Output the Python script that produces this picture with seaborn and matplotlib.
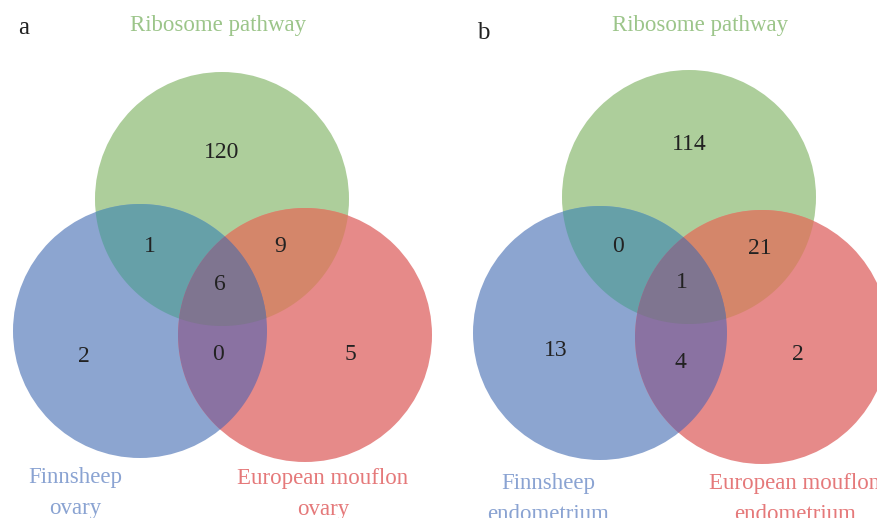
import numpy as np
import matplotlib.pyplot as plt
import seaborn as sns
from matplotlib.patches import Circle, Polygon

# counts per region: green only, green+blue, green+red, all three, blue only, blue+red, red only
panel_names = ['a', 'b']
set_top = ['Ribosome pathway', 'Ribosome pathway']
set_left = ['Finnsheep\novary', 'Finnsheep\nendometrium']
set_right = ['European mouflon\novary', 'European mouflon\nendometrium']
counts_a = [120, 1, 9, 6, 2, 0, 5]
counts_b = [114, 0, 21, 1, 13, 4, 2]

# layout (pixel space)
circles = [
    [(222, 199), (140, 331), (305, 335)],
    [(689, 197), (600, 333), (762, 337)],
]
radius = 127
count_pos = [
    [(222, 153), (150, 246), (280, 246), (220, 285), (84, 356), (218, 355), (350, 354)],
    [(689, 145), (618, 246), (760, 249), (682, 282), (556, 350), (680, 362), (798, 355)],
]
panel_pos = [(18, 28), (477, 33)]
top_pos = [(218, 25), (700, 25)]
left_pos = [(75, 493), (548, 499)]
right_pos = [(323, 494), (795, 499)]

green, blue, red = '#adce9b', '#8ca5d0', '#e68a89'
gb, gr, br, gbr = '#66a0a8', '#d4866a', '#8a72a2', '#7f7590'
label_green, label_blue, label_red = '#9cc58a', '#8aa3d2', '#e5797a'

sns.set_style('white')
plt.rcParams['font.family'] = ['Liberation Serif', 'DejaVu Serif']


def intersection(centers, r, n=1440):
    pts = []
    t = np.linspace(0, 2 * np.pi, n, endpoint=False)
    for cx, cy in centers:
        ring = np.column_stack([cx + r * np.cos(t), cy + r * np.sin(t)])
        keep = np.ones(n, dtype=bool)
        for ox, oy in centers:
            keep &= (ring[:, 0] - ox) ** 2 + (ring[:, 1] - oy) ** 2 <= r * r + 1e-6
        pts.append(ring[keep])
    pts = np.vstack(pts)
    m = pts.mean(axis=0)
    ang = np.arctan2(pts[:, 1] - m[1], pts[:, 0] - m[0])
    return pts[np.argsort(ang)]


fig = plt.figure(figsize=(8.77, 5.18), dpi=100)
ax = fig.add_axes([0, 0, 1, 1])
ax.set_xlim(0, 877)
ax.set_ylim(518, 0)
ax.axis('off')

for i, counts in enumerate([counts_a, counts_b]):
    g, b, r = circles[i]
    for c, col in zip([g, b, r], [green, blue, red]):
        ax.add_patch(Circle(c, radius, facecolor=col, edgecolor='none', antialiased=True))
    for pair, col in [((g, b), gb), ((g, r), gr), ((b, r), br)]:
        ax.add_patch(Polygon(intersection(pair, radius), closed=True, facecolor=col, edgecolor='none'))
    ax.add_patch(Polygon(intersection((g, b, r), radius), closed=True, facecolor=gbr, edgecolor='none'))

    for val, (x, y) in zip(counts, count_pos[i]):
        ax.text(x, y, str(val), ha='center', va='center', fontsize=17, color='#222222')

    ax.text(*panel_pos[i], panel_names[i], ha='left', va='center', fontsize=18, color='#222222')
    ax.text(*top_pos[i], set_top[i], ha='center', va='center', fontsize=16.5, color=label_green)
    ax.text(*left_pos[i], set_left[i], ha='center', va='center', fontsize=16.5, color=label_blue,
            linespacing=1.6)
    ax.text(*right_pos[i], set_right[i], ha='center', va='center', fontsize=16.5, color=label_red,
            linespacing=1.6)

fig.savefig('out.png', dpi=100)
